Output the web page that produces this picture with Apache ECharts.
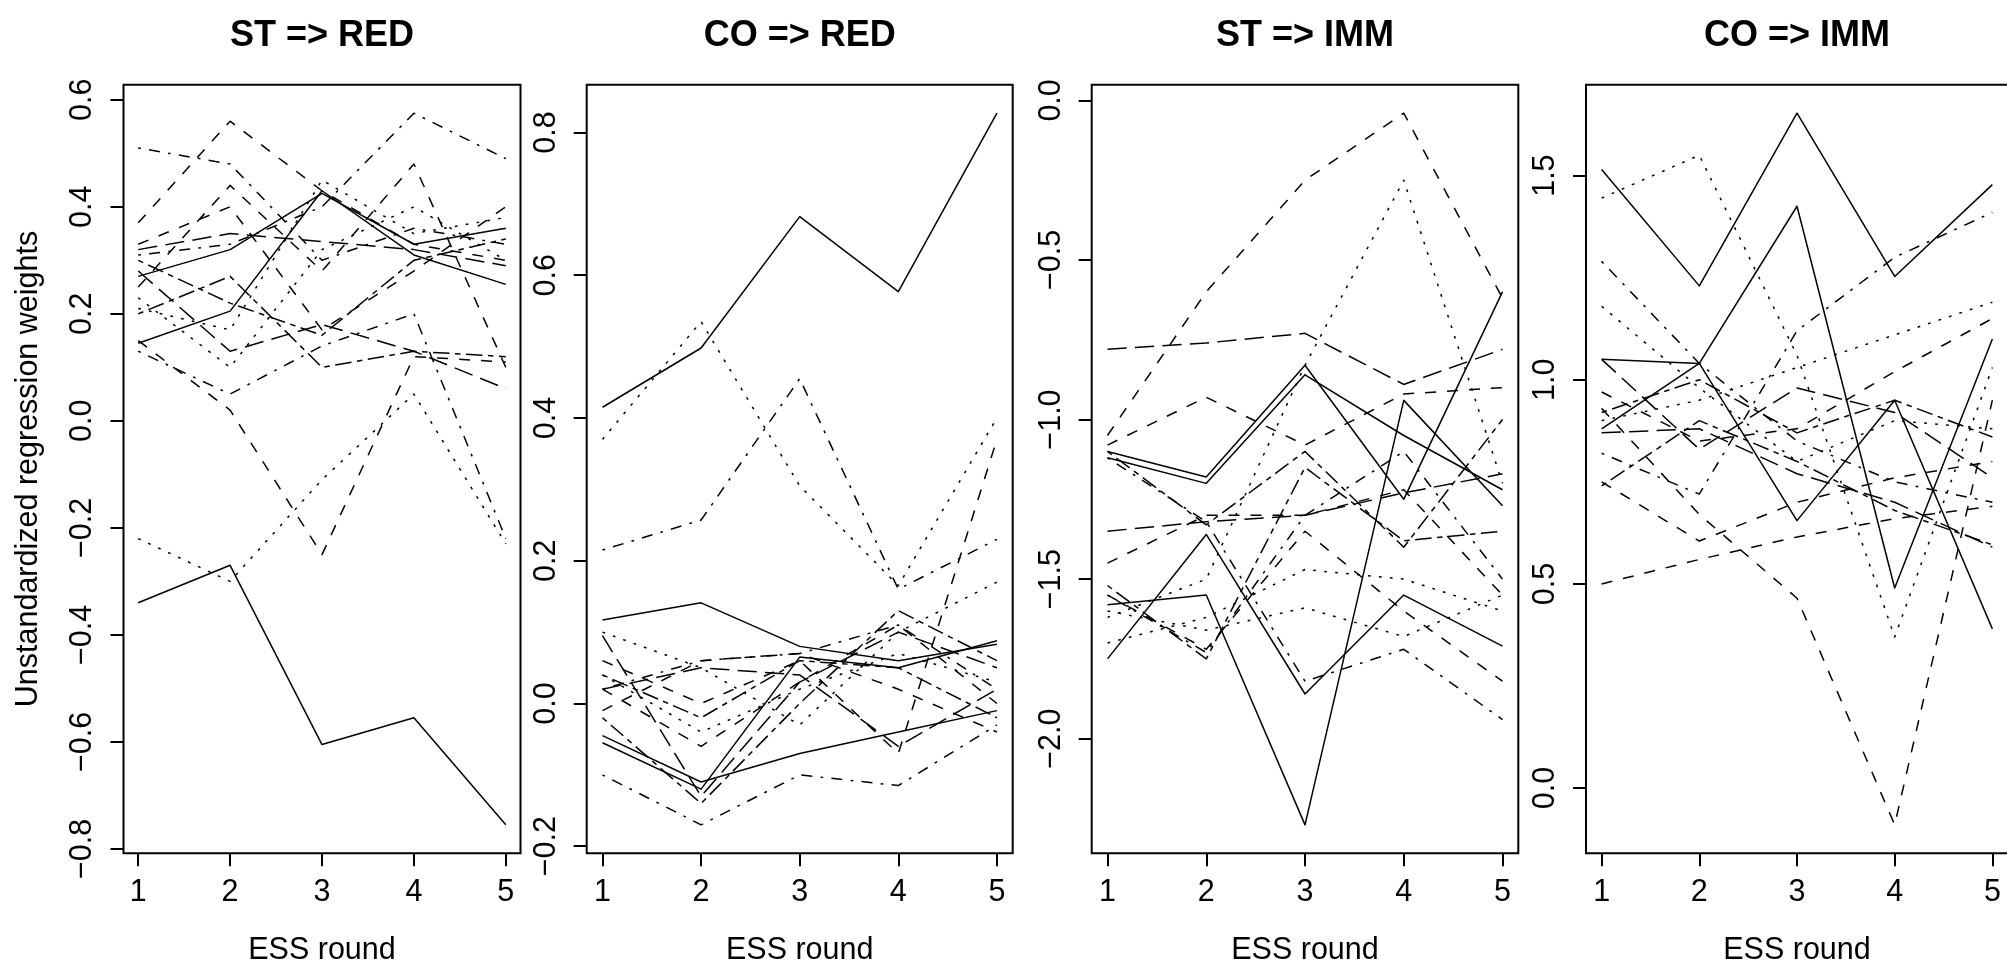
<!DOCTYPE html>
<html>
<head>
<meta charset="utf-8">
<script src="https://cdn.jsdelivr.net/npm/echarts@6/dist/echarts.min.js"></script>
<style>
  html, body { margin: 0; padding: 0; background: #fff; }
  #chart { width: 2007px; height: 960px; }
</style>
</head>
<body>
<div id="chart"></div>
<script>
// ESS rounds on the x axis of every panel
const rounds = [1, 2, 3, 4, 5];
const panelTitles = ['ST => RED', 'CO => RED', 'ST => IMM', 'CO => IMM'];
const xLabel = 'ESS round';
const yLabel = 'Unstandardized regression weights';

// tick marks of the y axes
const yTicksStRed = [-0.8, -0.6, -0.4, -0.2, 0.0, 0.2, 0.4, 0.6];
const yTicksCoRed = [-0.2, 0.0, 0.2, 0.4, 0.6, 0.8];
const yTicksStImm = [-2.0, -1.5, -1.0, -0.5, 0.0];
const yTicksCoImm = [0.0, 0.5, 1.0, 1.5];

// line type of each country (R lty codes: 1 solid, 2 dashed, 3 dotted, 4 dotdash, 5 longdash, 6 twodash)
const ltyStRed = [1, 1, 1, 2, 2, 2, 2, 3, 3, 3, 4, 4, 4, 5, 5, 6, 6];
const ltyCoRed = [1, 1, 1, 1, 2, 2, 2, 3, 3, 3, 4, 4, 4, 5, 5, 6, 6];
const ltyStImm = [1, 1, 1, 1, 2, 2, 2, 2, 3, 3, 3, 4, 4, 5, 5, 6, 6];
const ltyCoImm = [1, 1, 1, 2, 2, 2, 2, 3, 3, 3, 4, 4, 5, 5, 6, 6];

// regression weights per country, rounds 1..5
const stRed = [
  [-0.34, -0.27, -0.605, -0.555, -0.755],
  [0.145, 0.205, 0.43, 0.31, 0.255],
  [0.27, 0.32, 0.425, 0.33, 0.36],
  [0.37, 0.56, 0.43, 0.33, 0.30],
  [0.15, 0.02, -0.25, 0.12, 0.11],
  [0.25, 0.44, 0.28, 0.48, 0.10],
  [0.33, 0.40, 0.17, 0.28, 0.40],
  [-0.22, -0.30, -0.11, 0.05, -0.23],
  [0.21, 0.17, 0.45, 0.35, 0.38],
  [0.23, 0.10, 0.32, 0.40, 0.30],
  [0.51, 0.48, 0.30, 0.36, 0.33],
  [0.31, 0.33, 0.40, 0.575, 0.49],
  [0.13, 0.05, 0.14, 0.20, -0.22],
  [0.32, 0.35, 0.335, 0.32, 0.29],
  [0.28, 0.13, 0.18, 0.13, 0.06],
  [0.30, 0.22, 0.16, 0.30, 0.34],
  [0.20, 0.27, 0.10, 0.13, 0.12]
];
const coRed = [
  [0.415, 0.498, 0.682, 0.577, 0.827],
  [0.117, 0.141, 0.08, 0.06, 0.083],
  [-0.045, -0.11, -0.07, -0.04, -0.01],
  [-0.055, -0.12, 0.065, 0.05, 0.088],
  [0.06, 0.00, 0.06, -0.07, 0.37],
  [0.02, -0.06, 0.03, 0.11, 0.0],
  [-0.01, 0.06, 0.07, 0.02, -0.04],
  [0.37, 0.535, 0.305, 0.165, 0.40],
  [0.04, -0.04, 0.02, 0.07, 0.03],
  [0.10, 0.05, -0.03, 0.10, 0.17],
  [0.215, 0.257, 0.455, 0.16, 0.23],
  [-0.10, -0.17, -0.10, -0.115, -0.03],
  [0.02, 0.06, 0.07, 0.11, 0.02],
  [0.095, -0.13, 0.03, 0.10, 0.05],
  [0.02, 0.05, 0.04, -0.06, 0.02],
  [0.04, -0.02, 0.06, 0.05, -0.02],
  [-0.02, -0.14, 0.00, 0.13, 0.06]
];
const stImm = [
  [-1.10, -1.18, -0.83, -1.25, -0.60],
  [-1.75, -1.36, -1.86, -1.55, -1.71],
  [-1.58, -1.55, -2.27, -0.94, -1.27],
  [-1.12, -1.20, -0.86, -1.05, -1.22],
  [-1.05, -0.60, -0.25, -0.04, -0.62],
  [-1.08, -0.93, -1.08, -0.92, -0.90],
  [-1.45, -1.30, -1.30, -1.22, -1.55],
  [-1.55, -1.72, -1.35, -1.60, -1.82],
  [-1.62, -1.50, -0.83, -0.25, -1.20],
  [-1.70, -1.62, -1.47, -1.50, -1.60],
  [-1.60, -1.66, -1.59, -1.68, -1.55],
  [-1.55, -1.73, -1.30, -1.10, -1.50],
  [-1.12, -1.32, -1.82, -1.72, -1.94],
  [-0.78, -0.76, -0.73, -0.89, -0.78],
  [-1.35, -1.32, -1.30, -1.23, -1.17],
  [-1.10, -1.33, -1.10, -1.40, -1.00],
  [-1.52, -1.75, -1.15, -1.38, -1.35]
];
const coImm = [
  [1.515, 1.23, 1.653, 1.253, 1.478],
  [0.88, 1.04, 1.425, 0.49, 1.10],
  [1.05, 1.04, 0.655, 0.95, 0.39],
  [0.50, 0.56, 0.615, 0.66, 0.69],
  [0.93, 0.67, 0.465, -0.09, 0.95],
  [0.75, 0.605, 0.70, 0.76, 0.80],
  [0.97, 0.85, 0.88, 1.02, 1.15],
  [1.445, 1.55, 1.06, 0.37, 1.03],
  [0.90, 0.95, 1.03, 1.11, 1.19],
  [1.18, 0.98, 0.80, 0.90, 0.88],
  [1.29, 1.04, 0.85, 0.75, 0.70],
  [0.82, 0.72, 1.12, 1.30, 1.41],
  [1.05, 0.83, 0.98, 0.92, 0.76],
  [0.87, 0.88, 0.77, 0.70, 0.59],
  [0.74, 0.90, 0.80, 0.68, 0.596],
  [0.92, 1.00, 0.87, 0.95, 0.86]
];

// dash patterns for the R line types, in pixels
const dashes = {
  1: 'solid',
  2: [11, 11],
  3: [2.75, 8.25],
  4: [2.75, 8.25, 11, 8.25],
  5: [19.25, 8.25],
  6: [5.5, 5.5, 16.5, 5.5]
};

const FONT = "'Liberation Sans', Arial, Helvetica, sans-serif";
const TEXT = 30.5;

// plot-region boxes of the four panels (pixels)
const boxes = [
  { left: 123.5, width: 397 },
  { left: 586.7, width: 426 },
  { left: 1091.7, width: 426.6 },
  { left: 1586, width: 422 }
];
const boxTop = 84.7;
const boxHeight = 768.6;

const panels = [
  { data: stRed, lty: ltyStRed, ticks: yTicksStRed },
  { data: coRed, lty: ltyCoRed, ticks: yTicksCoRed },
  { data: stImm, lty: ltyStImm, ticks: yTicksStImm },
  { data: coImm, lty: ltyCoImm, ticks: yTicksCoImm }
];

// R-style axis range: data range widened by 4% at each end
function rLimits(lo, hi) {
  const pad = (hi - lo) * 0.04;
  return [lo - pad, hi + pad];
}
const xLim = rLimits(Math.min(...rounds), Math.max(...rounds));

function fmtY(v) {
  const s = Math.abs(v).toFixed(1);
  return v < -1e-9 ? '\u2212' + s : s;
}

const grid = [], xAxis = [], yAxis = [], series = [], title = [];

panels.forEach((p, i) => {
  const all = p.data.flat();
  const yLim = rLimits(Math.min(...all), Math.max(...all));
  const b = boxes[i];

  grid.push({
    left: b.left, top: boxTop, width: b.width, height: boxHeight,
    show: true, borderColor: '#000', borderWidth: 2, backgroundColor: 'transparent',
    containLabel: false, outerBoundsMode: 'none'
  });

  xAxis.push({
    type: 'value', gridIndex: i, position: 'bottom', min: xLim[0], max: xLim[1],
    name: xLabel, nameLocation: 'middle', nameGap: 82,
    nameTextStyle: { fontFamily: FONT, fontSize: TEXT, color: '#000' },
    axisLine: { show: false, onZero: false },
    splitLine: { show: false },
    axisTick: { show: true, inside: false, length: 13, customValues: rounds,
      lineStyle: { color: '#000', width: 2 } },
    axisLabel: { show: true, customValues: rounds, margin: 24,
      fontFamily: FONT, fontSize: TEXT, color: '#000',
      formatter: v => String(v) }
  });

  yAxis.push({
    type: 'value', gridIndex: i, position: 'left', min: yLim[0], max: yLim[1],
    name: i === 0 ? yLabel : '', nameLocation: 'middle', nameRotate: 90, nameGap: 79,
    nameTextStyle: { fontFamily: FONT, fontSize: TEXT, color: '#000' },
    axisLine: { show: false, onZero: false },
    splitLine: { show: false },
    axisTick: { show: true, inside: false, length: 13, customValues: p.ticks,
      lineStyle: { color: '#000', width: 2 } },
    axisLabel: { show: true, customValues: p.ticks, rotate: 90, margin: 25,
      fontFamily: FONT, fontSize: TEXT, color: '#000',
      formatter: fmtY }
  });

  p.data.forEach((vals, k) => {
    series.push({
      type: 'line', xAxisIndex: i, yAxisIndex: i,
      data: rounds.map((r, j) => [r, vals[j]]),
      symbol: 'none', silent: true, animation: false, clip: false,
      lineStyle: { color: '#000', width: 1.5, type: dashes[p.lty[k]], cap: 'butt', join: 'round' }
    });
  });

  title.push({
    text: panelTitles[i],
    left: b.left + b.width / 2, top: 36,
    textAlign: 'center', textVerticalAlign: 'middle', padding: 0,
    textStyle: { fontFamily: FONT, fontSize: 36, fontWeight: 'bold', color: '#000' }
  });
});

const chart = echarts.init(document.getElementById('chart'), null, { renderer: 'canvas' });
chart.setOption({
  backgroundColor: '#fff',
  animation: false,
  title, grid, xAxis, yAxis, series
});
</script>
</body>
</html>
